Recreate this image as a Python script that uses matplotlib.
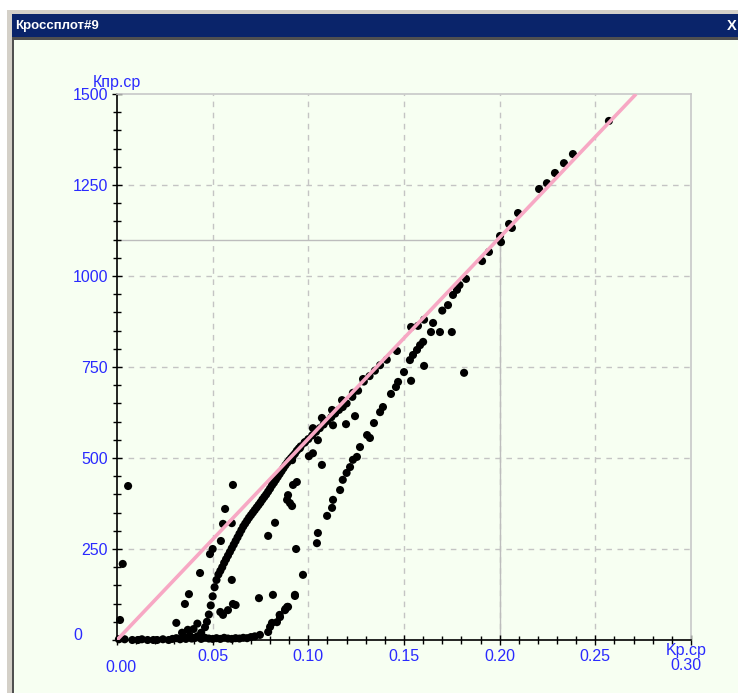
import matplotlib
matplotlib.use("Agg")
import matplotlib.pyplot as plt
from matplotlib.patches import Rectangle
from matplotlib.ticker import MultipleLocator
import numpy as np

plt.rcParams['font.family'] = ['Liberation Sans', 'DejaVu Sans']

# ------data------
# main dense curve (Kp.cp, Kпр.cp)
main_x = [0.040, 0.042, 0.044, 0.046, 0.047, 0.048, 0.049, 0.050, 0.051, 0.052,
          0.053, 0.054, 0.055, 0.056, 0.057, 0.058, 0.059, 0.060, 0.061, 0.062,
          0.063, 0.064, 0.065, 0.066, 0.067, 0.068, 0.069, 0.070, 0.071, 0.072,
          0.073, 0.074, 0.075, 0.076, 0.077, 0.078, 0.079, 0.080, 0.081, 0.082,
          0.083, 0.084, 0.085, 0.086, 0.087, 0.088, 0.089, 0.090, 0.091, 0.092,
          0.093, 0.094, 0.095, 0.096, 0.098, 0.100, 0.102, 0.104, 0.106, 0.108,
          0.110, 0.112, 0.114, 0.116, 0.118, 0.120, 0.123, 0.126, 0.129, 0.132]
main_y = [5, 10, 20, 35, 50, 70, 95, 120, 145, 165,
          180, 190, 200, 212, 222, 232, 242, 252, 262, 272,
          282, 292, 302, 312, 320, 328, 336, 343, 350, 357,
          364, 371, 378, 386, 393, 400, 408, 416, 425, 432,
          440, 448, 456, 464, 472, 480, 487, 494, 500, 506,
          512, 520, 526, 532, 542, 552, 562, 572, 582, 592,
          602, 612, 622, 632, 640, 650, 668, 685, 710, 725]

# points along the upper band (close to the line)
upper_x = [0.0915, 0.0956, 0.0983, 0.1024, 0.1071, 0.1124, 0.1176, 0.1233, 0.1286,
           0.1348, 0.1375, 0.1410, 0.1463, 0.1537, 0.1573, 0.1605, 0.1652, 0.1641,
           0.1688, 0.1750, 0.1730, 0.1756, 0.1777, 0.1790, 0.1824, 0.1908, 0.1944,
           0.2002, 0.2007, 0.2049, 0.2064, 0.2096, 0.2206, 0.2247, 0.2289, 0.2336,
           0.2383, 0.2571]
upper_y = [494, 527, 544, 582, 610, 632, 659, 679, 717,
           740, 755, 770, 794, 860, 863, 880, 871, 846,
           846, 846, 920, 948, 962, 975, 992, 1041, 1066,
           1110, 1093, 1143, 1132, 1173, 1239, 1255, 1283, 1310,
           1335, 1426]

# second (right) branch
branch_x = [0.0747, 0.0790, 0.0800, 0.0810, 0.0836, 0.0852, 0.0878, 0.0894, 0.0930,
            0.0972, 0.1045, 0.1050, 0.1098, 0.1124, 0.1129, 0.1166, 0.1180, 0.1200,
            0.1218, 0.1233, 0.1254, 0.1270, 0.1307, 0.1322, 0.1343, 0.1375, 0.1390,
            0.1432, 0.1458, 0.1469, 0.1500, 0.1531, 0.1547, 0.1568, 0.1584, 0.1600,
            0.1700]
branch_y = [14, 22, 36, 47, 49, 63, 82, 91, 121,
            179, 266, 294, 341, 363, 385, 412, 440, 459,
            475, 495, 503, 530, 563, 555, 596, 626, 640,
            676, 695, 709, 736, 769, 783, 797, 810, 819,
            905]

# points lying on the bottom axis
bottom_x = [0.001, 0.004, 0.008, 0.011, 0.013, 0.016, 0.019, 0.021, 0.024, 0.027,
            0.029, 0.031, 0.033, 0.034, 0.035, 0.036, 0.037, 0.038, 0.039, 0.040,
            0.041, 0.042, 0.043, 0.044, 0.046, 0.048, 0.050, 0.052, 0.054, 0.056,
            0.058, 0.060, 0.062, 0.064, 0.066, 0.068, 0.070, 0.072]
bottom_y = [2, 2, 0, 0, 2, 0, 0, 0, 2, 0,
            3, 5, 2, 20, 8, 3, 28, 12, 4, 30,
            6, 45, 8, 3, 6, 4, 3, 5, 3, 6,
            4, 3, 5, 4, 6, 5, 8, 10]

# scattered points
other_x = [0.0016, 0.0030, 0.0058, 0.0310, 0.0355, 0.0376, 0.0434, 0.0486, 0.0500,
           0.0543, 0.0565, 0.0600, 0.0606, 0.0600, 0.0620, 0.0580, 0.0554, 0.0540,
           0.0606, 0.0790, 0.0826, 0.0936, 0.0742, 0.0815, 0.0930, 0.0890, 0.0894,
           0.0904, 0.0940, 0.0920, 0.0889, 0.0915, 0.1003, 0.1024, 0.1071, 0.1050,
           0.1129, 0.1197, 0.1244, 0.1537, 0.1605, 0.1814, 0.0554, 0.0850, 0.0880]
other_y = [55, 209, 423, 47, 99, 126, 184, 236, 250,
           272, 360, 321, 426, 165, 96, 82, 69, 77,
           99, 286, 322, 250, 115, 124, 124, 91, 398,
           376, 434, 426, 385, 368, 505, 513, 481, 549,
           590, 593, 615, 712, 753, 734, 319, 69, 85]

# reference line and cursor
line_x = [0.0, 0.2713]
line_y = [0, 1500]
cursor_x = 0.20
cursor_y = 1100

xticks = [0.00, 0.05, 0.10, 0.15, 0.20, 0.25, 0.30]
yticks = [0, 250, 500, 750, 1000, 1250, 1500]

# ------plotting------
W, H = 738, 693
fig = plt.figure(figsize=(W / 100, H / 100), dpi=100)
fig.patch.set_facecolor('white')

bg = '#f7fff2'
blue = '#2a2aff'
fs = 11.5

def px_rect(x0, y0, x1, y1, color):
  r = Rectangle((x0 / W, 1 - y1 / H), (x1 - x0) / W, (y1 - y0) / H,
                transform=fig.transFigure, facecolor=color, edgecolor='none', zorder=-10)
  fig.add_artist(r)

# window chrome
px_rect(7, 10, W, H, '#d4d0c8')
px_rect(12, 14, W, 37, '#0a246a')
px_rect(12, 37, W, 40, '#505050')
px_rect(12, 40, 14, H, '#505050')
px_rect(14, 40, W, H, bg)
fig.text(15 / W, 1 - 26 / H, 'Кроссплот#9', color='white', fontsize=9.5,
         fontweight='bold', va='center', ha='left')
fig.text(732 / W, 1 - 26 / H, 'X', color='white', fontsize=10.5, fontweight='bold',
         va='center', ha='center')

ax = fig.add_axes([117 / W, 1 - 640 / H, (691 - 117) / W, (640 - 94) / H])
ax.set_facecolor(bg)
ax.set_xlim(0, 0.30)
ax.set_ylim(0, 1500)

for s in ['top', 'right']:
  ax.spines[s].set_color('#c8c8c8')
  ax.spines[s].set_linewidth(1.2)
for s in ['left', 'bottom']:
  ax.spines[s].set_color('black')
  ax.spines[s].set_linewidth(1.2)

ax.set_xticks(xticks)
ax.set_yticks(yticks)
ax.xaxis.set_minor_locator(MultipleLocator(0.01))
ax.yaxis.set_minor_locator(MultipleLocator(50))
ax.tick_params(which='major', direction='inout', length=7, width=1, color='black')
ax.tick_params(which='minor', direction='inout', length=6, width=1, color='black')
ax.tick_params(axis='both', which='major', labelsize=fs, labelcolor=blue)
ax.tick_params(axis='x', pad=3)
ax.tick_params(axis='y', pad=3)

xlabels = ['%.2f' % v for v in xticks]
xlabels[0] = ''
xlabels[-1] = ''
ax.set_xticklabels(xlabels)
ylabels = [str(v) for v in yticks]
ylabels[0] = ''
ax.set_yticklabels(ylabels)

# dashed grid inside
for v in xticks[1:-1]:
  ax.axvline(v, color='#c4c4c4', lw=1, ls=(0, (4, 4)), zorder=1)
for v in yticks[1:-1]:
  ax.axhline(v, color='#c4c4c4', lw=1, ls=(0, (4, 4)), zorder=1)

# cursor crosshair
ax.plot([0, cursor_x], [cursor_y, cursor_y], color='#bdbdbd', lw=1, zorder=1.5)
ax.plot([cursor_x, cursor_x], [0, cursor_y], color='#bdbdbd', lw=1, zorder=1.5)

# points
for xs, ys in [(main_x, main_y), (upper_x, upper_y), (branch_x, branch_y),
               (bottom_x, bottom_y), (other_x, other_y)]:
  ax.scatter(xs, ys, s=34, c='black', edgecolors='none', zorder=3, clip_on=False)

ax.plot(line_x, line_y, color='#f7a8c4', lw=2.6, zorder=4, solid_capstyle='butt')

# special labels
ax.text(-39 / 574, 4 / 546, '0', transform=ax.transAxes, color=blue, fontsize=fs,
        ha='center', va='center')
ax.text(4 / 574, -27 / 546, '0.00', transform=ax.transAxes, color=blue, fontsize=fs,
        ha='center', va='center')
ax.text(1 - 5 / 574, -26 / 546, '0.30', transform=ax.transAxes, color=blue, fontsize=fs,
        ha='center', va='center')
ax.text(1 - 5 / 574, -11 / 546, 'Kp.cp', transform=ax.transAxes, color=blue, fontsize=fs,
        ha='center', va='center')
ax.text(0, 1 + 12 / 546, 'Кпр.ср', transform=ax.transAxes, color=blue, fontsize=fs,
        ha='center', va='center')

fig.savefig('out.png', dpi=100)
